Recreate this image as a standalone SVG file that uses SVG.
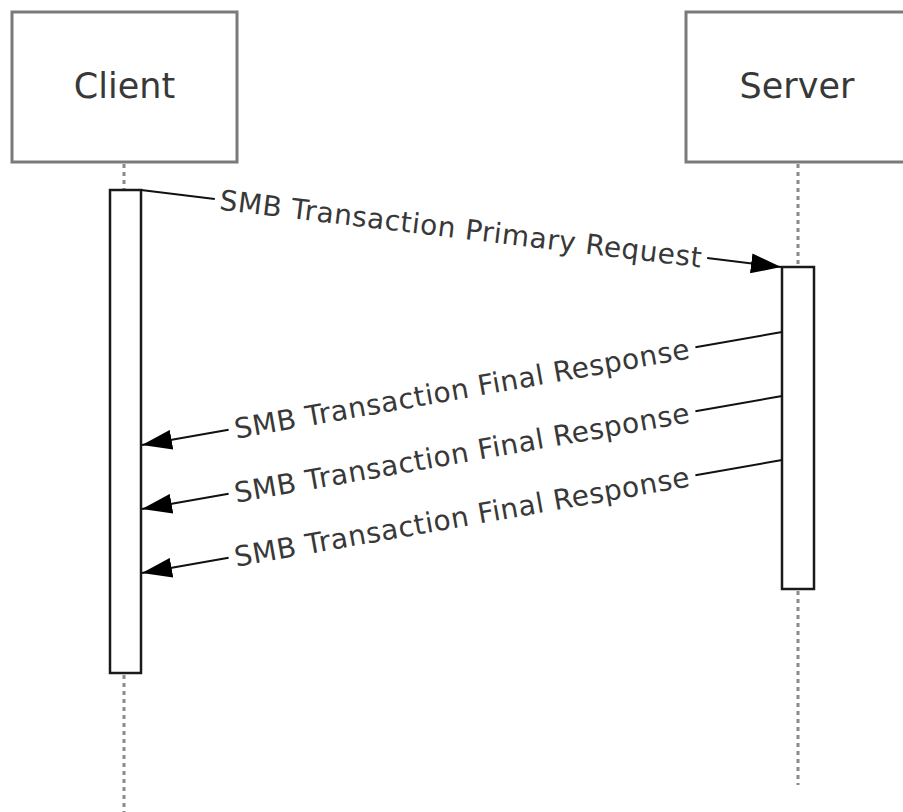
<svg xmlns="http://www.w3.org/2000/svg" width="903" height="812" viewBox="0 0 903 812">
  <style>
    .box { fill: #ffffff; stroke: #7a7a7a; stroke-width: 3; }
    .act { fill: #ffffff; stroke: #1a1a1a; stroke-width: 2.5; }
    .life { stroke: #8a8a8a; stroke-width: 3; stroke-dasharray: 4 4; fill: none; }
    .msg { stroke: #111111; stroke-width: 2; fill: none; }
    .title { font-family: "DejaVu Sans", Verdana, sans-serif; font-size: 35px; fill: #383838; text-anchor: middle; }
    .lbl { font-family: "DejaVu Sans", Verdana, sans-serif; font-size: 28px; letter-spacing: 0.5px; fill: #383838; text-anchor: middle; }
  </style>
  <defs>
    <marker id="arrow" viewBox="0 0 30 20" refX="30" refY="10" markerWidth="30" markerHeight="20" markerUnits="userSpaceOnUse" orient="auto">
      <path d="M0,0 L30,10 L0,20 Z" fill="#000000"/>
    </marker>
  </defs>
  <rect width="903" height="812" fill="#ffffff"/>

  <g id="client">
    <rect class="box" x="12" y="12" width="225" height="150"/>
    <text class="title" x="124.5" y="98">Client</text>
    <line class="life" x1="124" y1="164" x2="124" y2="190"/>
    <line class="life" x1="124" y1="675" x2="124" y2="812"/>
    <rect class="act" x="110" y="190" width="31" height="483"/>
  </g>

  <g id="server">
    <rect class="box" x="686" y="12" width="224" height="150"/>
    <text class="title" x="797" y="98">Server</text>
    <line class="life" x1="798" y1="164" x2="798" y2="267"/>
    <line class="life" x1="798" y1="591" x2="798" y2="785"/>
    <rect class="act" x="782" y="267" width="32" height="322"/>
  </g>

  <g id="connectors">
    <g id="msg-request">
      <line class="msg" x1="141" y1="190" x2="214.8" y2="198.9"/>
      <line class="msg" x1="707.2" y1="258.1" x2="781" y2="267" marker-end="url(#arrow)"/>
      <text class="lbl" x="461" y="228.5" dy="0.36em" transform="rotate(6.86 461 228.5)">SMB Transaction Primary Request</text>
    </g>
    <g id="msg-response-1">
      <line class="msg" x1="782" y1="332" x2="695.4" y2="347.3"/>
      <line class="msg" x1="228.6" y1="429.7" x2="142" y2="445" marker-end="url(#arrow)"/>
      <text class="lbl" x="462" y="388.5" dy="0.36em" transform="rotate(-10.04 462 388.5)">SMB Transaction Final Response</text>
    </g>
    <g id="msg-response-2">
      <line class="msg" x1="782" y1="396" x2="695.4" y2="411.3"/>
      <line class="msg" x1="228.6" y1="493.7" x2="142" y2="509" marker-end="url(#arrow)"/>
      <text class="lbl" x="462" y="452.5" dy="0.36em" transform="rotate(-10.04 462 452.5)">SMB Transaction Final Response</text>
    </g>
    <g id="msg-response-3">
      <line class="msg" x1="782" y1="460" x2="695.4" y2="475.3"/>
      <line class="msg" x1="228.6" y1="557.7" x2="142" y2="573" marker-end="url(#arrow)"/>
      <text class="lbl" x="462" y="516.5" dy="0.36em" transform="rotate(-10.04 462 516.5)">SMB Transaction Final Response</text>
    </g>
  </g>
</svg>
